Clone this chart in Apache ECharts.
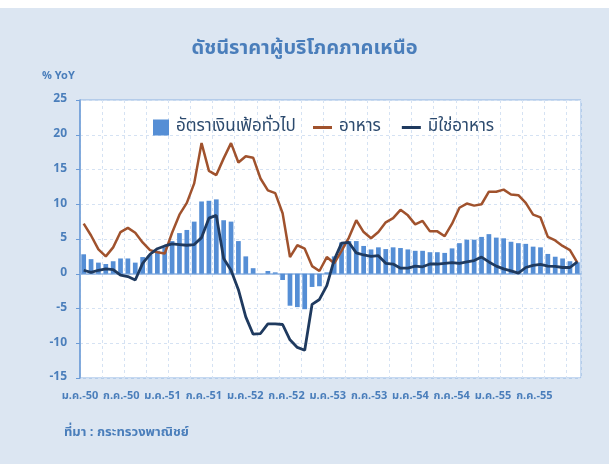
<!DOCTYPE html>
<html><head><meta charset="utf-8">
<script src="https://cdn.jsdelivr.net/npm/echarts@6/dist/echarts.min.js"></script>
<style>html,body{margin:0;padding:0;background:#dce6f2}#c{width:609px;height:464px}</style>
</head><body><div id="c"></div>
<script>
const monthNames = ['ม.ค.','ก.พ.','มี.ค.','เม.ย.','พ.ค.','มิ.ย.','ก.ค.','ส.ค.','ก.ย.','ต.ค.','พ.ย.','ธ.ค.'];
const years = ['50','51','52','53','54','55'];
const categories = [];
years.forEach(y => monthNames.forEach(m => categories.push(m + '-' + y)));
categories.length = 68; // ม.ค.-50 … ส.ค.-55

const xLabels = ['ม.ค.-50','ก.ค.-50','ม.ค.-51','ก.ค.-51','ม.ค.-52','ก.ค.-52','ม.ค.-53','ก.ค.-53','ม.ค.-54','ก.ค.-54','ม.ค.-55','ก.ค.-55'];

const headline = [2.8,2.1,1.6,1.4,1.8,2.2,2.2,1.6,2.4,2.7,3.3,3.8,
  4.7,5.85,6.3,7.5,10.4,10.5,10.7,7.7,7.5,4.7,2.5,0.8,
  0.0,0.4,0.2,-0.9,-4.6,-4.8,-5.1,-1.9,-1.8,0.2,2.5,4.5,
  4.7,4.7,4.0,3.5,3.8,3.55,3.8,3.7,3.5,3.3,3.3,3.1,
  3.1,3.0,3.65,4.4,4.9,4.9,5.3,5.7,5.2,5.1,4.6,4.4,
  4.3,3.9,3.8,2.85,2.45,2.2,1.8,1.65];

const food = [7.2,5.5,3.5,2.5,3.8,6.0,6.6,5.9,4.5,3.4,3.1,2.9,
  5.9,8.5,10.2,13.0,18.8,14.8,14.2,16.6,18.8,16.0,16.9,16.7,
  13.7,12.0,11.6,8.7,2.4,4.1,3.6,1.1,0.4,2.4,1.5,3.3,
  5.2,7.7,6.0,5.1,6.0,7.4,8.0,9.2,8.4,7.1,7.6,6.1,
  6.1,5.4,7.2,9.5,10.1,9.8,10.0,11.8,11.8,12.1,11.4,11.3,
  10.2,8.5,8.1,5.3,4.8,4.0,3.4,1.6];

const nonFood = [0.5,0.2,0.5,0.7,0.6,-0.2,-0.4,-0.9,1.5,2.8,3.6,4.0,
  4.3,4.2,4.1,4.2,5.2,8.0,8.4,2.2,0.5,-2.3,-6.2,-8.7,
  -8.6,-7.2,-7.2,-7.3,-9.5,-10.6,-11.0,-4.4,-3.7,-1.7,2.0,4.4,
  4.5,3.0,2.7,2.5,2.6,1.5,1.4,0.8,0.8,1.1,1.0,1.4,
  1.4,1.5,1.6,1.5,1.7,1.9,2.4,1.7,1.1,0.7,0.4,0.1,
  0.9,1.2,1.35,1.1,1.05,0.9,0.9,1.7];

const seriesNames = ['อัตราเงินเฟ้อทั่วไป','อาหาร','มิใช่อาหาร'];

const FONT = "'Noto Sans Thai','Noto Sans','DejaVu Sans',sans-serif";
const BLUE = '#4a7ebb';
const LEGEND_TEXT = {fontSize: 17, color: '#2c4a6e', fontFamily: FONT, padding: [0, 0, 0, 2]};
const chart = echarts.init(document.getElementById('c'));
chart.setOption({
  backgroundColor: '#dce6f2',
  animation: false,
  textStyle: {fontFamily: FONT},
  title: {text: 'ดัชนีราคาผู้บริโภคภาคเหนือ', left: 'center', top: 35,
    textStyle: {fontSize: 20, fontWeight: 'bold', color: BLUE, fontFamily: FONT}},
  graphic: [
    {type: 'rect', shape: {x: 0, y: 0, width: 609, height: 8}, style: {fill: '#ffffff'}},
    {type: 'text', left: 42, top: 71, style: {text: '% YoY', font: 'bold 11px ' + FONT, fill: BLUE}},
    {type: 'text', left: 64, top: 427, style: {text: 'ที่มา : กระทรวงพาณิชย์', font: 'bold 13px ' + FONT, fill: BLUE}}
  ],
  legend: [
    {data: [{name: seriesNames[0], icon: 'rect'}], left: 148, top: 114, itemWidth: 16, itemHeight: 16,
      textStyle: LEGEND_TEXT},
    {data: [{name: seriesNames[1], icon: 'rect'}, {name: seriesNames[2], icon: 'rect'}], left: 308, top: 114,
      itemWidth: 19, itemHeight: 3, itemGap: 21, textStyle: LEGEND_TEXT}
  ],
  grid: {left: 80, right: 28, top: 100, bottom: 86, show: true, backgroundColor: '#ffffff',
    borderColor: '#8db3e2', borderWidth: 1},
  xAxis: [
    {type: 'category', data: categories, boundaryGap: true,
      axisLine: {onZero: true, lineStyle: {color: '#8db3e2', width: 1.5}},
      axisTick: {interval: (i) => i % 3 === 0, length: 4, lineStyle: {color: '#8db3e2'}},
      axisLabel: {show: false},
      splitLine: {show: true, interval: (i) => i % 3 === 0, lineStyle: {type: [3, 3], color: '#d5e2f3'}}},
    {type: 'value', position: 'bottom', min: 0, max: 12.13, interval: 1,
      axisLine: {show: false}, axisTick: {show: false}, splitLine: {show: false},
      axisLabel: {margin: 13, fontSize: 11, fontWeight: 'bold', color: BLUE, fontFamily: FONT,
        hideOverlap: false, showMaxLabel: true,
        formatter: (v) => (Math.abs(v - Math.round(v)) < 1e-6 && xLabels[Math.round(v)]) || ''}}
  ],
  yAxis: {type: 'value', min: -15, max: 25, interval: 5,
    axisLine: {show: true, lineStyle: {color: '#6a9ad6', width: 1.5}},
    axisTick: {show: true, length: 4, lineStyle: {color: '#6a9ad6'}},
    axisLabel: {margin: 13, fontSize: 12, fontWeight: 'bold', color: BLUE, fontFamily: FONT},
    splitLine: {show: true, lineStyle: {type: [3, 3], color: '#d5e2f3'}}},
  series: [
    {name: seriesNames[0], type: 'bar', data: headline, xAxisIndex: 0, barWidth: '64%',
      itemStyle: {color: '#558ed5'}},
    {name: seriesNames[1], type: 'line', data: food, xAxisIndex: 0, symbol: 'none',
      lineStyle: {color: '#a0522d', width: 2.5}, itemStyle: {color: '#a0522d'}},
    {name: seriesNames[2], type: 'line', data: nonFood, xAxisIndex: 0, symbol: 'none',
      lineStyle: {color: '#1f3a5f', width: 2.8}, itemStyle: {color: '#1f3a5f'}}
  ]
});
</script></body></html>
